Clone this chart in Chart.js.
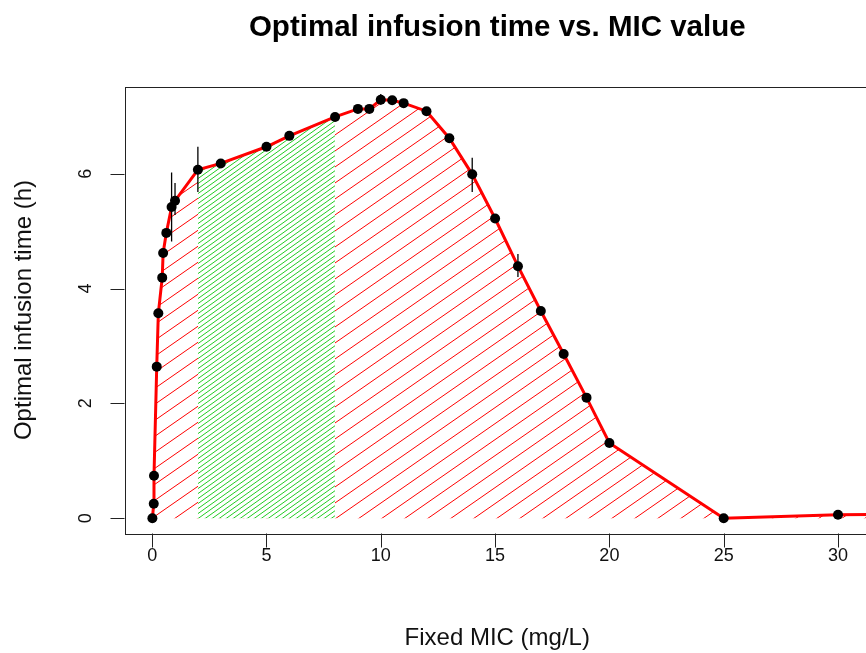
<!DOCTYPE html>
<html>
<head>
<meta charset="utf-8">
<title>Optimal infusion time vs. MIC value</title>
<script src="https://cdn.jsdelivr.net/npm/chart.js@4.4.1/dist/chart.umd.min.js"></script>
<style>
  html, body { margin: 0; padding: 0; overflow: hidden; background: #fff; }
  canvas { display: block; background: #fff; }
</style>
</head>
<body>
<canvas id="chart" width="880" height="653"></canvas>
<script>
// Datos (el último punto queda fuera del área visible)
const micValues = [0.01, 0.07, 0.08, 0.2, 0.27, 0.44, 0.48, 0.62, 0.85, 1.0,
  2, 3, 5, 6, 8, 9, 9.5, 10, 10.5, 11, 12, 13, 14, 15, 16, 17, 18, 19, 20, 25, 30, 35];
const infusionTime = [0.0, 0.25, 0.74, 2.64, 3.57, 4.19, 4.62, 4.97, 5.42, 5.53,
  6.07, 6.18, 6.47, 6.66, 6.99, 7.13, 7.13, 7.29, 7.28, 7.23, 7.09, 6.62, 5.99, 5.22, 4.39, 3.61, 2.86, 2.10, 1.31, 0.0, 0.06, 0.07];

// Barras de error (min / max)
const errMic = [0.85, 1.0, 2, 10, 10.5, 14, 16];
const errLow = [4.82, 5.28, 5.68, 7.20, 7.20, 5.68, 4.20];
const errHigh = [6.02, 5.84, 6.47, 7.39, 7.35, 6.28, 4.60];

// Rango óptimo (zona verde)
const optimalFrom = 2;
const optimalTo = 8;

const xTicks = [0, 5, 10, 15, 20, 25, 30];
const yTicks = [0, 2, 4, 6];

const titleText = "Optimal infusion time vs. MIC value";
const xLabel = "Fixed MIC (mg/L)";
const yLabel = "Optimal infusion time (h)";

const FONT = '"Liberation Sans", Arial, sans-serif';

// Patrón de rayado diagonal
function makeHatch(w, h, color, lineWidth, bg) {
  const c = document.createElement("canvas");
  c.width = w;
  c.height = h;
  const g = c.getContext("2d");
  if (bg) {
    g.fillStyle = bg;
    g.fillRect(0, 0, w, h);
  }
  g.strokeStyle = color;
  g.lineWidth = lineWidth;
  for (let k = -1; k <= 1; k++) {
    g.beginPath();
    g.moveTo(-w, 2 * h + k * h);
    g.lineTo(2 * w, -h + k * h);
    g.stroke();
  }
  return g.createPattern(c, "repeat");
}

const redHatch = makeHatch(23, 16, "#ff0000", 1, null);
const greenHatch = makeHatch(7, 5, "#22cc22", 1, "#ffffff");

const points = micValues.map((v, i) => ({ x: v, y: infusionTime[i] }));
const optimalPoints = points.filter((p) => p.x >= optimalFrom && p.x <= optimalTo);
const errorSegments = errMic.flatMap((v, i) => [
  { x: v, y: errLow[i] },
  { x: v, y: errHigh[i] },
  { x: v, y: null },
]);

// Ejes al estilo R: caja, marcas y textos
const rAxes = {
  id: "rAxes",
  afterDraw(chart) {
    const { ctx, chartArea: a, scales } = chart;
    const x = scales.x, y = scales.y;
    ctx.save();
    ctx.strokeStyle = "#222";
    ctx.lineWidth = 1;
    ctx.strokeRect(Math.round(a.left) + 0.5, Math.round(a.top) + 0.5,
      Math.round(a.right - a.left), Math.round(a.bottom - a.top));

    ctx.beginPath();
    xTicks.forEach((v) => {
      const px = Math.round(x.getPixelForValue(v)) + 0.5;
      ctx.moveTo(px, a.bottom);
      ctx.lineTo(px, a.bottom + 14);
    });
    yTicks.forEach((v) => {
      const py = Math.round(y.getPixelForValue(v)) + 0.5;
      ctx.moveTo(a.left, py);
      ctx.lineTo(a.left - 14, py);
    });
    ctx.stroke();

    ctx.fillStyle = "#111";
    ctx.textAlign = "center";
    ctx.textBaseline = "middle";
    ctx.font = "18px " + FONT;
    xTicks.forEach((v) => ctx.fillText(String(v), x.getPixelForValue(v), a.bottom + 23));
    yTicks.forEach((v) => {
      ctx.save();
      ctx.translate(a.left - 38, y.getPixelForValue(v));
      ctx.rotate(-Math.PI / 2);
      ctx.fillText(String(v), 0, 0);
      ctx.restore();
    });

    ctx.font = "24px " + FONT;
    ctx.fillText(xLabel, (a.left + a.right) / 2, 638);
    ctx.save();
    ctx.translate(24, (a.top + a.bottom) / 2);
    ctx.rotate(-Math.PI / 2);
    ctx.fillText(yLabel, 0, 0);
    ctx.restore();

    ctx.fillStyle = "#000";
    ctx.font = "bold 29.5px " + FONT;
    ctx.fillText(titleText, (a.left + a.right) / 2, 28);
    ctx.restore();
  },
};

new Chart(document.getElementById("chart"), {
  type: "line",
  data: {
    datasets: [
      {
        label: "area",
        data: points,
        borderWidth: 0,
        borderColor: "rgba(0,0,0,0)",
        pointRadius: 0,
        fill: "origin",
        backgroundColor: redHatch,
        order: 4,
      },
      {
        label: "optimal",
        data: optimalPoints,
        borderWidth: 0,
        borderColor: "rgba(0,0,0,0)",
        pointRadius: 0,
        fill: "origin",
        backgroundColor: greenHatch,
        order: 3,
      },
      {
        label: "curve",
        data: points,
        borderColor: "#ff0000",
        borderWidth: 3,
        pointRadius: 0,
        fill: false,
        order: 2,
      },
      {
        label: "error",
        data: errorSegments,
        borderColor: "#000",
        borderWidth: 1.3,
        pointRadius: 0,
        fill: false,
        spanGaps: false,
        order: 1,
      },
      {
        label: "points",
        data: points,
        showLine: false,
        pointRadius: 5,
        pointBackgroundColor: "#000",
        pointBorderColor: "#000",
        pointBorderWidth: 0,
        order: 0,
      },
    ],
  },
  options: {
    responsive: false,
    animation: false,
    layout: { padding: { left: 124.5, top: 86.5, right: 10, bottom: 119.5 } },
    elements: { line: { tension: 0 } },
    scales: {
      x: { type: "linear", min: -1.21, max: 31.4, display: false },
      y: { type: "linear", min: -0.267, max: 7.52, display: false },
    },
    plugins: {
      legend: { display: false },
      tooltip: { enabled: false },
      title: { display: false },
    },
  },
  plugins: [rAxes],
});
</script>
</body>
</html>
